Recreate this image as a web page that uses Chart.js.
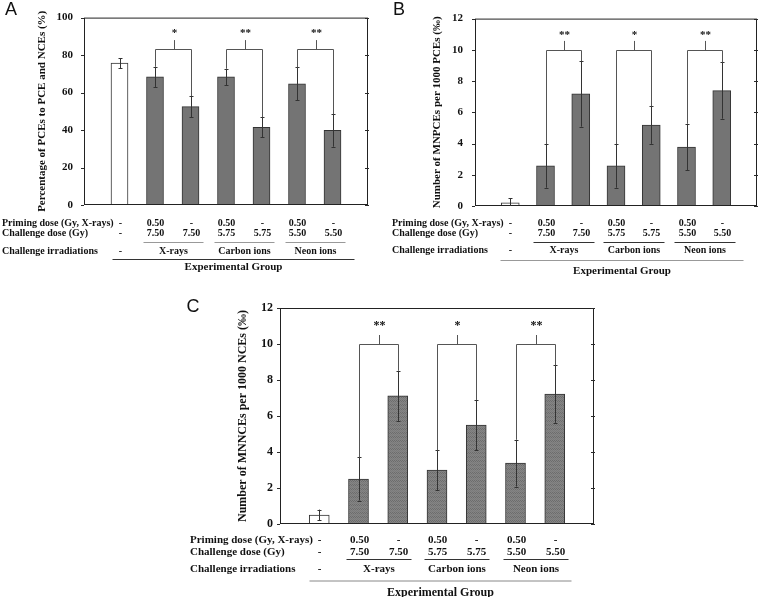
<!DOCTYPE html>
<html><head><meta charset="utf-8">
<script src="https://cdn.jsdelivr.net/npm/chart.js@4/dist/chart.umd.min.js"></script>
<style>
html,body{margin:0;padding:0;background:#fff;width:762px;height:597px;overflow:hidden}
canvas{position:absolute;left:0;top:0}
</style></head><body>
<canvas id="cA" width="762" height="597"></canvas>
<canvas id="cB" width="762" height="597"></canvas>
<canvas id="cC" width="762" height="597"></canvas>
<script>
// ---------- data ----------
const categories = ['Control', 'X 0.50+7.50', 'X 7.50', 'C 0.50+5.75', 'C 5.75', 'Ne 0.50+5.50', 'Ne 5.50'];
const primingDose = ['-', '0.50', '-', '0.50', '-', '0.50', '-'];
const challengeDose = ['-', '7.50', '7.50', '5.75', '5.75', '5.50', '5.50'];
const irradiationGroups = ['X-rays', 'Carbon ions', 'Neon ions'];
const controlIrradiation = '-';

const pcePercent = [75.7, 68.4, 52.5, 68.4, 41.5, 64.6, 39.8];
const pcePercentErr = [2.6, 5.4, 5.6, 4.4, 5.3, 8.8, 8.7];
const mnpce = [0.2, 2.57, 7.18, 2.57, 5.18, 3.78, 7.39];
const mnpceErr = [0.3, 1.4, 2.1, 1.4, 1.2, 1.5, 1.8];
const mnnce = [0.5, 2.5, 7.12, 2.99, 5.49, 3.38, 7.22];
const mnnceErr = [0.3, 1.2, 1.4, 1.1, 1.4, 1.3, 1.6];

const sigA = ['*', '**', '**'];
const sigB = ['**', '*', '**'];
const sigC = ['**', '*', '**'];
// bracket level, centre tick top, star level (axis units)
const bracketA = [83.4, 88, 93];
const bracketB = [10.0, 10.57, 11.08];
const bracketC = [10.0, 10.5, 11.1];

const yTicksA = [0, 20, 40, 60, 80, 100];
const yTicksB = [0, 2, 4, 6, 8, 10, 12];
const yTicksC = [0, 2, 4, 6, 8, 10, 12];

// ---------- drawing ----------
const SERIF = '"Liberation Serif", "Times New Roman", serif';
const W = 762, H = 597;

function hatchPattern() {
  const c = document.createElement('canvas'); c.width = 4; c.height = 4;
  const g = c.getContext('2d');
  g.fillStyle = '#858585'; g.fillRect(0, 0, 4, 4);
  g.fillStyle = '#6c6c6c';
  g.fillRect(0, 0, 1, 1); g.fillRect(2, 0, 1, 1); g.fillRect(1, 1, 1, 1); g.fillRect(3, 1, 1, 1);
  g.fillStyle = '#7a7a7a';
  g.fillRect(0, 2, 1, 1); g.fillRect(2, 2, 1, 1); g.fillRect(1, 3, 1, 1); g.fillRect(3, 3, 1, 1);
  return g.createPattern(c, 'repeat');
}

const panelPlugin = {
  id: 'panel',
  afterDatasetsDraw(chart, args, o) {
    const ctx = chart.ctx, xs = chart.scales.x, ys = chart.scales.y, ca = chart.chartArea;
    const line = (x1, y1, x2, y2, col) => {
      ctx.beginPath(); ctx.strokeStyle = col || '#2a2a2a'; ctx.moveTo(x1, y1); ctx.lineTo(x2, y2); ctx.stroke();
    };
    const cx = i => Math.round(xs.getPixelForValue(i + 1)) + 0.5;
    ctx.save();
    ctx.lineWidth = 1;
    // frame
    ctx.strokeStyle = '#222';
    ctx.strokeRect(ca.left + 0.5, ca.top + 0.5, ca.width - 1, ca.height - 1);
    // tick marks
    ys.ticks.forEach(t => {
      const py = Math.round(ys.getPixelForValue(t.value)) + 0.5;
      line(ca.left - 3, py, ca.left, py);
      line(ca.right - 3, py, ca.right + 1, py);
    });
    // error bars
    o.values.forEach((v, i) => {
      const px = cx(i);
      const hi = ys.getPixelForValue(v + o.errs[i]);
      const lo = ys.getPixelForValue(Math.max(0, v - o.errs[i]));
      line(px, hi, px, lo, '#333');
      line(px - 2, Math.round(hi) + 0.5, px + 2, Math.round(hi) + 0.5, '#333');
      if (v - o.errs[i] > 0) line(px - 2, Math.round(lo) + 0.5, px + 2, Math.round(lo) + 0.5, '#333');
    });
    // significance brackets
    const by = Math.round(ys.getPixelForValue(o.bracket[0])) + 0.5;
    const bt = ys.getPixelForValue(o.bracket[1]);
    const bs = ys.getPixelForValue(o.bracket[2]);
    o.sig.forEach((s, g) => {
      const i1 = 1 + 2 * g, i2 = i1 + 1;
      const x1 = cx(i1), x2 = cx(i2), xm = Math.round((x1 + x2) / 2) + 0.5;
      line(x1, by, x2, by, '#555');
      line(x1, by, x1, ys.getPixelForValue(o.values[i1] + o.errs[i1]), '#555');
      line(x2, by, x2, ys.getPixelForValue(o.values[i2] + o.errs[i2]), '#555');
      line(xm, by, xm, bt, '#555');
      ctx.fillStyle = '#111';
      ctx.font = 'bold ' + (o.fs + 1) + 'px ' + SERIF;
      ctx.textAlign = 'center'; ctx.textBaseline = 'middle';
      ctx.fillText(s, xm, bs + 2);
    });
    // table
    const T = o.table;
    ctx.fillStyle = '#111';
    ctx.font = 'bold ' + o.fs + 'px ' + SERIF;
    ctx.textBaseline = 'middle';
    ctx.textAlign = 'left';
    ctx.fillText('Priming dose (Gy, X-rays)', T.labelX, T.prime);
    ctx.fillText('Challenge dose (Gy)', T.labelX, T.dose);
    ctx.fillText('Challenge irradiations', T.labelX, T.irr);
    ctx.textAlign = 'center';
    primingDose.forEach((s, i) => ctx.fillText(s, cx(i), T.prime));
    challengeDose.forEach((s, i) => ctx.fillText(s, cx(i), T.dose));
    ctx.fillText(controlIrradiation, cx(0), T.irr);
    irradiationGroups.forEach((s, g) => {
      const x1 = cx(1 + 2 * g), x2 = cx(2 + 2 * g);
      ctx.fillText(s, (x1 + x2) / 2, T.irr);
      line(x1 - T.ext, T.under + 0.5, x2 + T.ext, T.under + 0.5, T.underCol);
    });
    const lx1 = cx(0) + T.longFrom, lx2 = cx(6) + T.longTo;
    line(lx1, T.long + 0.5, lx2, T.long + 0.5, T.longCol);
    ctx.font = 'bold ' + (o.fs + 1) + 'px ' + SERIF;
    ctx.fillText('Experimental Group', (lx1 + lx2) / 2, T.eg);
    // panel letter
    ctx.font = '18px "Liberation Sans", Arial, sans-serif';
    ctx.fillStyle = '#111';
    ctx.fillText(o.letter.t, o.letter.x, o.letter.y);
    ctx.restore();
  }
};

function makeChart(id, G, values, errs, ticks, yMax, title, colors, barW, sig, bracket, fs) {
  const padLeft = G.titleX - 7;
  new Chart(document.getElementById(id), {
    type: 'bar',
    data: {
      labels: ['', ...categories, ''],
      datasets: [{
        data: [null, ...values, null],
        backgroundColor: colors,
        borderColor: '#333',
        borderWidth: 1,
        barThickness: barW
      }]
    },
    options: {
      responsive: false,
      animation: false,
      devicePixelRatio: 1,
      layout: { padding: { left: padLeft, right: W - G.r, top: G.t, bottom: H - G.b } },
      plugins: {
        legend: { display: false },
        tooltip: { enabled: false },
        panel: { values, errs, sig, bracket, fs, table: G.table, letter: G.letter }
      },
      scales: {
        x: { type: 'category', offset: false, display: false },
        y: {
          min: 0, max: yMax,
          afterBuildTicks: s => { s.ticks = ticks.map(v => ({ value: v })); },
          afterFit: s => { s.width = G.l - padLeft; },
          grid: { display: false, drawTicks: false },
          border: { display: false },
          ticks: { color: '#111', padding: G.tickPad, font: { family: SERIF, weight: 'bold', size: fs + 1 } },
          title: { display: true, text: title, color: '#111', padding: 0, font: { family: SERIF, weight: 'bold', size: G.titleFs } }
        }
      }
    },
    plugins: [panelPlugin]
  });
}

const grey = '#747474';
const GA = { l: 84, r: 368, t: 10, b: 205, titleX: 43, tickPad: 11, titleFs: 11,
  letter: { t: 'A', x: 11, y: 10 },
  table: { labelX: 2, prime: 223, dose: 233.5, under: 242, irr: 251, long: 259, eg: 267.5, ext: 12, longFrom: -8, longTo: 21, underCol: '#999', longCol: '#333' } };
const GB = { l: 475, r: 757, t: 10, b: 206, titleX: 438, tickPad: 12, titleFs: 11,
  letter: { t: 'B', x: 399, y: 10 },
  table: { labelX: 392, prime: 223, dose: 233.7, under: 242, irr: 250.7, long: 260, eg: 271, ext: 13, longFrom: -10, longTo: 21, underCol: '#333', longCol: '#999' } };
const GC = { l: 280, r: 594, t: 308, b: 524, titleX: 243, tickPad: 7, titleFs: 12,
  letter: { t: 'C', x: 193, y: 307 },
  table: { labelX: 190, prime: 540, dose: 551.7, under: 559, irr: 569, long: 580.5, eg: 592.5, ext: 13, longFrom: -10, longTo: 16, underCol: '#333', longCol: '#888' } };

makeChart('cA', GA, pcePercent, pcePercentErr, yTicksA, 100, 'Percentage of PCEs to PCE and NCEs (%)',
  [null, '#ffffff', grey, grey, grey, grey, grey, grey, null], 17, sigA, bracketA, 10);
makeChart('cB', GB, mnpce, mnpceErr, yTicksB, 12, 'Number of MNPCEs per 1000 PCEs (‰)',
  [null, '#ffffff', grey, grey, grey, grey, grey, grey, null], 18, sigB, bracketB, 10);
const hp = hatchPattern();
makeChart('cC', GC, mnnce, mnnceErr, yTicksC, 12, 'Number of MNNCEs per 1000 NCEs (‰)',
  [null, '#ffffff', hp, hp, hp, hp, hp, hp, null], 20, sigC, bracketC, 11);
</script>
</body></html>
